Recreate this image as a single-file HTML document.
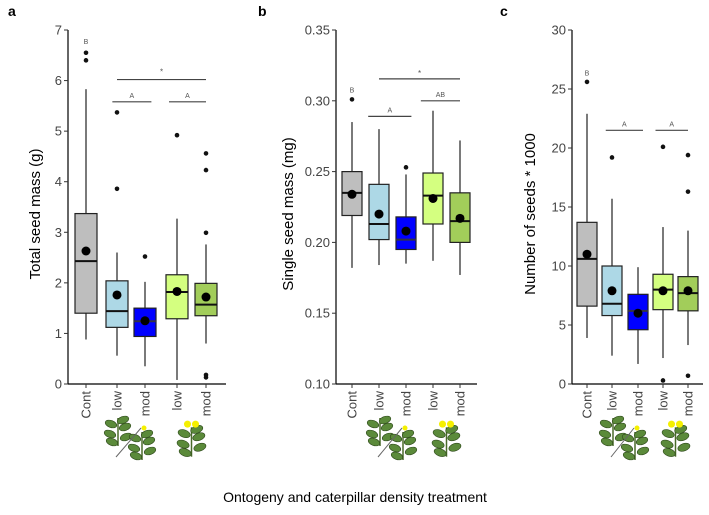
<!DOCTYPE html>
<html><head><meta charset="utf-8"><style>
body{margin:0;background:#fff;width:709px;height:515px;overflow:hidden}
svg{display:block;font-family:"Liberation Sans",sans-serif}
</style></head><body>
<svg id="fig" width="709" height="515" viewBox="0 0 709 515"></svg>
<script>
const categories = ["Cont","low","mod","low","mod"];
const colors = ["#bebebe","#add8e6","#0000ff","#d4ff80","#a2cd5a"];
// [whiskerLow, q1, median, q3, whiskerHigh, mean]
const statsA = [[0.88,1.4,2.43,3.37,5.83,2.63],[0.56,1.12,1.44,2.04,2.6,1.76],[0.35,0.94,1.24,1.5,2.02,1.25],[0.08,1.29,1.82,2.16,3.27,1.83],[0.8,1.35,1.57,1.99,2.76,1.72]];
const outliersA = [[6.4,6.55],[3.86,5.37],[2.52],[4.92],[2.99,4.23,4.56,0.13,0.18]];
const ticksA = [0,1,2,3,4,5,6,7];
const statsB = [[0.182,0.219,0.235,0.250,0.285,0.234],[0.184,0.202,0.213,0.241,0.280,0.220],[0.185,0.195,0.202,0.218,0.248,0.208],[0.187,0.213,0.233,0.249,0.293,0.231],[0.177,0.200,0.215,0.235,0.272,0.217]];
const outliersB = [[0.301],[],[0.253],[],[]];
const ticksB = [0.10,0.15,0.20,0.25,0.30,0.35];
const statsC = [[3.9,6.6,10.6,13.7,22.9,11.0],[2.4,5.8,6.8,10.0,15.7,7.9],[1.7,4.6,6.2,7.6,9.9,6.0],[2.2,6.3,8.0,9.3,13.3,7.9],[3.3,6.2,7.7,9.1,13.0,7.9]];
const outliersC = [[25.6],[19.2],[],[20.1,0.3],[19.4,16.3,0.7]];
const ticksC = [0,5,10,15,20,25,30];

const NS="http://www.w3.org/2000/svg";
const svg=document.getElementById('fig');
function mk(tag,attrs,parent,text){const e=document.createElementNS(NS,tag);for(const k in attrs)e.setAttribute(k,attrs[k]);if(text!==undefined)e.textContent=text;(parent||svg).appendChild(e);return e;}

const panels=[
 {letter:"a",lx:8,ax:68,right:226,min:0,max:7,stats:statsA,outs:outliersA,ticks:ticksA,dec:0,title:"Total seed mass (g)",tx:40,centers:[86,117,145,177,206],bw:22,
  brackets:[{a:1,b:4.2,v:6.02,t:"*",tv:6.18},{a:0.85,b:2.2,v:5.58,t:"A"},{a:2.75,b:4.25,v:5.58,t:"A"}],letters:[{i:0,v:6.78,t:"B"}]},
 {letter:"b",lx:258,ax:336,right:477,min:0.10,max:0.35,stats:statsB,outs:outliersB,ticks:ticksB,dec:2,title:"Single seed mass (mg)",tx:293,centers:[352,379,406,433,460],bw:20,
  brackets:[{a:1,b:4.2,v:0.3155,t:"*",tv:0.3195},{a:0.6,b:2.2,v:0.289,t:"A"},{a:2.55,b:4.4,v:0.300,t:"AB"}],letters:[{i:0,v:0.308,t:"B"}]},
 {letter:"c",lx:500,ax:572,right:703,min:0,max:30,stats:statsC,outs:outliersC,ticks:ticksC,dec:0,title:"Number of seeds * 1000",tx:535,centers:[587,612,638,663,688],bw:20,
  brackets:[{a:0.75,b:2.2,v:21.5,t:"A"},{a:2.7,b:4.25,v:21.5,t:"A"}],letters:[{i:0,v:26.4,t:"B"}]}
];
const Y0=384,Y1=30;

panels.forEach((p,pi)=>{
 const g=mk('g',{});
 const ys=v=>Y0-(v-p.min)/(p.max-p.min)*(Y0-Y1);
 const cx=i=>{const f=Math.floor(i),r=i-f;const c0=p.centers[Math.min(f,4)],c1=p.centers[Math.min(f+1,4)];return c0+(c1-c0)*r;};
 mk('text',{x:p.lx,y:16,'font-size':14,'font-weight':'bold',},g,p.letter);
 const ya=mk('g',{},g);
 mk('line',{x1:p.ax,y1:Y1,x2:p.ax,y2:Y0,stroke:'#000','stroke-width':1.2},ya);
 p.ticks.forEach(t=>{const y=ys(t);
  mk('line',{x1:p.ax-4,y1:y,x2:p.ax,y2:y,stroke:'#333','stroke-width':1},ya);
  mk('text',{x:p.ax-6,y:y+4.5,'font-size':13,fill:'#444','text-anchor':'end',},ya,t.toFixed(p.dec));});
 const xa=mk('g',{},g);
 mk('line',{x1:p.ax,y1:Y0,x2:p.right,y2:Y0,stroke:'#000','stroke-width':1.2},xa);
 categories.forEach((c,i)=>{const x=p.centers[i];
  mk('line',{x1:x,y1:Y0,x2:x,y2:Y0+4,stroke:'#333'},xa);
  mk('text',{x:0,y:0,'font-size':13,fill:'#444','text-anchor':'end',transform:`translate(${x+4.5},${Y0+7}) rotate(-90)`,},xa,c);});
 const ty=(Y0+Y1)/2;
 mk('text',{x:0,y:0,'font-size':15,'text-anchor':'middle',transform:`translate(${p.tx},${ty+7}) rotate(-90)`,},g,p.title);
 p.stats.forEach((s,i)=>{const x=p.centers[i],w=p.bw;
  const b=mk('g',{},g);
  mk('line',{x1:x,y1:ys(s[0]),x2:x,y2:ys(s[1]),stroke:'#222','stroke-width':1.2},b);
  mk('line',{x1:x,y1:ys(s[3]),x2:x,y2:ys(s[4]),stroke:'#222','stroke-width':1.2},b);
  mk('rect',{x:x-w/2,y:ys(s[3]),width:w,height:ys(s[1])-ys(s[3]),fill:colors[i],stroke:'#222','stroke-width':1.2},b);
  mk('line',{x1:x-w/2,y1:ys(s[2]),x2:x+w/2,y2:ys(s[2]),stroke:i==2?'#334':'#111','stroke-width':2},b);
  mk('circle',{cx:x,cy:ys(s[5]),r:4.5,fill:'#000',},b);
  p.outs[i].forEach(o=>mk('circle',{cx:x,cy:ys(o),r:2.3,fill:'#111',},b));
 });
 p.brackets.forEach(br=>{const y=ys(br.v);
  mk('line',{x1:cx(br.a),y1:y,x2:cx(br.b),y2:y,stroke:'#444','stroke-width':1.2,},g);
  const tyy=br.tv!==undefined?ys(br.tv):y-4;
  mk('text',{x:(cx(br.a)+cx(br.b))/2,y:tyy+(br.t=="*"?3:0),'font-size':br.t=="*"?8:7,fill:'#555','text-anchor':'middle',},g,br.t);});
 p.letters.forEach(l=>mk('text',{x:p.centers[l.i],y:ys(l.v)+3,'font-size':7,fill:'#555','text-anchor':'middle',},g,l.t));
 const ic=mk('g',{},g);
 const c1=p.centers[1],c2=p.centers[2],c3=(p.centers[3]+p.centers[4])/2;
 function plant(x,y,s,flower){
  mk('line',{x1:x,y1:y-14*s,x2:x,y2:y+14*s,stroke:'#4a6b2a','stroke-width':1.5},ic);
  [[-7,-8],[7,-5],[-8,2],[8,5],[-6,10],[5,-12]].forEach(d=>mk('ellipse',{cx:x+d[0]*s,cy:y+d[1]*s,rx:6*s,ry:3.5*s,fill:'#5b8a3a',stroke:'#2f4a1c','stroke-width':0.6,transform:`rotate(${d[0]>0?-20:20} ${x+d[0]*s} ${y+d[1]*s})`},ic));
  if(flower){mk('circle',{cx:x-4,cy:y-17*s,r:3.5,fill:'#f5f000'},ic);mk('circle',{cx:x+4,cy:y-17*s,r:3.5,fill:'#f5f000'},ic);}
 }
 plant(c1+1,432,1,false);
 plant(c2-3,446,1,false);
 mk('circle',{cx:c2-1,cy:428,r:2.5,fill:'#f5f000'},ic);
 mk('line',{x1:c1-1,y1:457,x2:c2-4,y2:428,stroke:'#666','stroke-width':1},ic);
 plant(c3,442,1.05,true);
});
mk('text',{x:355,y:502,'font-size':14,'text-anchor':'middle',},svg,"Ontogeny and caterpillar density treatment");
</script>
</body></html>
